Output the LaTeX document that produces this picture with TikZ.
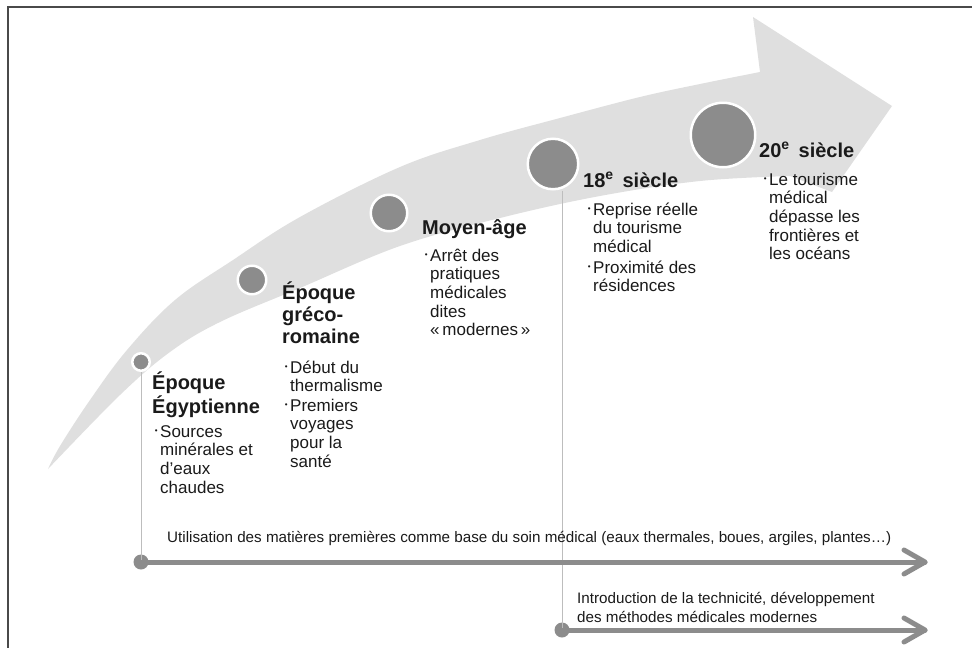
\documentclass[tikz,border=0pt]{standalone}
\usepackage{fontspec}
\setmainfont{Liberation Sans}
\definecolor{band}{HTML}{DFDFDF}
\definecolor{mid}{HTML}{8C8C8C}
\definecolor{txt}{HTML}{1A1A1A}
\definecolor{frame}{HTML}{4A4A4A}
\definecolor{vline}{HTML}{BDBDBD}
\newcommand{\bulmark}{\llap{\raisebox{3.5pt}{\fontsize{8}{8}\selectfont •}\hspace{2.5pt}}}
\newcommand{\linesblk}[1]{\begin{tabular}[t]{@{}l@{}}#1\end{tabular}}
\begin{document}
\begin{tikzpicture}[x=1pt,y=-1pt,
  head/.style={font=\fontsize{20}{22}\selectfont\bfseries, anchor=base west, inner sep=0pt, text=txt},
  body/.style={font=\fontsize{17}{18.7}\selectfont, anchor=base west, inner sep=0pt, text=txt},
  foot/.style={font=\fontsize{15.2}{19.5}\selectfont, anchor=base west, inner sep=0pt, text=txt},
  era/.style={circle, fill=mid, draw=white, line width=2.5pt, inner sep=0pt, minimum size=#1},
  sdot/.style={circle, fill=mid, inner sep=0pt, minimum size=15pt},
  barrow/.style={draw=mid, line width=5pt, line cap=round, line join=round},
  guide/.style={draw=vline, line width=1pt}]
\useasboundingbox (0,0) rectangle (972,648);
% frame
\draw[frame, line width=1.8pt] (8,648) -- (8,7) -- (972,7);
% big curved arrow
\fill[band] (48,469)
  -- plot[smooth, tension=0.6] coordinates {(48,469) (60,446) (90,400) (127,350) (175,300) (233,260) (300,217) (400,167) (480,140) (560,118) (640,97) (700,84) (760,72)}
  -- (753,17) -- (892,106) -- (832,192) -- (790,176)
  -- plot[smooth, tension=0.6] coordinates {(790,176) (700,181) (600,196) (500,218) (400,246) (300,288) (220,322) (170,352) (120,395) (48,469)}
  -- cycle;
% era circles
\node[era=17.5pt] (egy) at (141,362) {};
\node[era=28.5pt] (gre) at (252,280) {};
\node[era=36.5pt] (moy) at (389,213) {};
\node[era=50.5pt] (s18) at (553,164) {};
\node[era=64.5pt] (s20) at (723,135) {};
% bottom arrows
\node[sdot] (l1dot) at (141,562) {};
\node[sdot] (l2dot) at (562,630) {};
\coordinate (l1end) at (925,562);
\coordinate (l2end) at (925,630);
\draw[guide] (egy.south) -- (l1dot.center);
\draw[guide] (l2dot |- s18.south) -- (l2dot.center);
\draw[barrow] (l1dot.center) -- (l1end);
\draw[barrow] (l1end) ++(-21,-12) -- (l1end) -- ++(-21,12);
\draw[barrow] (l2dot.center) -- (l2end);
\draw[barrow] (l2end) ++(-21,-12) -- (l2end) -- ++(-21,12);
% texts
\node[head] (hegy) at (152,389) {\linesblk{Époque\\Égyptienne}};
\node[body] (begy) at (160,437) {\linesblk{\bulmark Sources\\minérales et\\d’eaux\\chaudes}};
\node[head] (hgre) at (282,299) {\linesblk{Époque\\gréco-\\romaine}};
\node[body] (bgre1) at (290,373) {\linesblk{\bulmark Début du\\thermalisme}};
\node[body] (bgre2) at (290,411) {\linesblk{\bulmark Premiers\\voyages\\pour la\\santé}};
\node[head] (hmoy) at (422,234) {Moyen-âge};
\node[body] (bmoy) at (430,261) {\linesblk{\bulmark Arrêt des\\pratiques\\médicales\\dites\\«\,modernes\,»}};
\node[head] (h18) at (583,187) {18\textsuperscript{e}\, siècle};
\node[body] (b18a) at (593,215) {\linesblk{\bulmark Reprise réelle\\du tourisme\\médical}};
\node[body] (b18b) at (593,273) {\linesblk{\bulmark Proximité des\\résidences}};
\node[head] (h20) at (759,157) {20\textsuperscript{e}\, siècle};
\node[body] (b20) at (769,185) {\linesblk{\bulmark Le tourisme\\médical\\dépasse les\\frontières et\\les océans}};
\node[foot] (f1) at (167,542) {Utilisation des matières premières comme base du soin médical (eaux thermales, boues, argiles, plantes…)};
\node[foot] (f2) at (577,603) {\linesblk{Introduction de la technicité, développement\\des méthodes médicales modernes}};
\end{tikzpicture}
\end{document}
